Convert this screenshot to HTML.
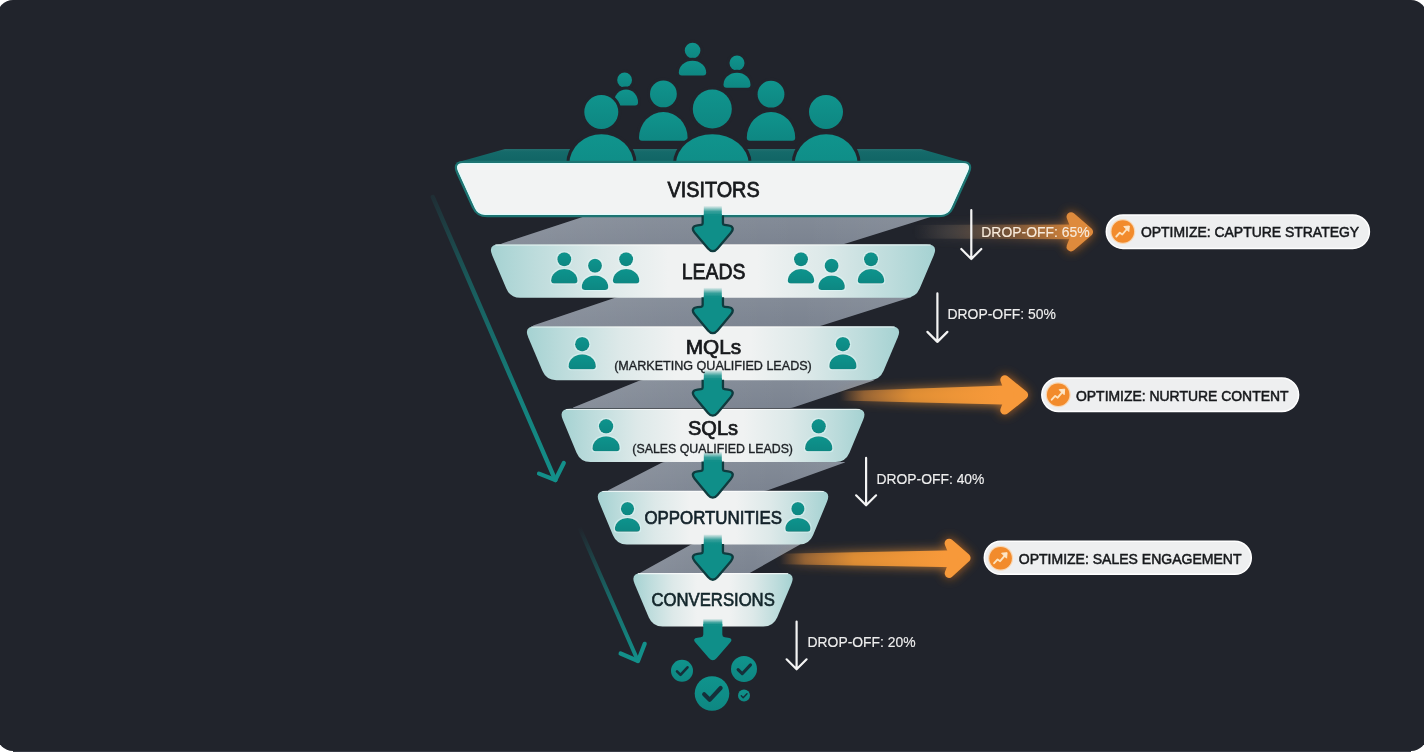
<!DOCTYPE html>
<html><head><meta charset="utf-8"><style>html,body{margin:0;padding:0;background:#ffffff;width:1424px;height:752px;overflow:hidden}svg{display:block;will-change:transform}</style></head>
<body><svg width="1424" height="752" viewBox="0 0 1424 752">
<defs>
<linearGradient id="tealg" x1="0" y1="0" x2="0" y2="1"><stop offset="0" stop-color="#10948d"/><stop offset="1" stop-color="#0e8782"/></linearGradient>
<linearGradient id="stageg" x1="0" y1="0" x2="1" y2="0">
 <stop offset="0" stop-color="#a5d2d2"/><stop offset="0.1" stop-color="#bddcdc"/><stop offset="0.25" stop-color="#dde9e9"/><stop offset="0.4" stop-color="#f0f2f2"/>
 <stop offset="0.6" stop-color="#f0f2f2"/><stop offset="0.75" stop-color="#dde9e9"/><stop offset="0.9" stop-color="#bddcdc"/><stop offset="1" stop-color="#a5d2d2"/></linearGradient>
<linearGradient id="grayg" x1="0" y1="0" x2="0" y2="1"><stop offset="0" stop-color="#838b97"/><stop offset="1" stop-color="#7b8390"/></linearGradient>
<linearGradient id="grayglint" x1="0" y1="0" x2="1" y2="0"><stop offset="0" stop-color="#ffffff" stop-opacity="0.10"/><stop offset="0.35" stop-color="#ffffff" stop-opacity="0.04"/><stop offset="0.7" stop-color="#ffffff" stop-opacity="0"/><stop offset="1" stop-color="#ffffff" stop-opacity="0.05"/></linearGradient>
<linearGradient id="topsurf" x1="0" y1="0" x2="0" y2="1"><stop offset="0" stop-color="#236f6f"/><stop offset="0.2" stop-color="#156a6a"/><stop offset="1" stop-color="#106464"/></linearGradient>
<linearGradient id="shaftfade" x1="0" y1="0" x2="0" y2="1"><stop offset="0" stop-color="#13908a" stop-opacity="0.05"/><stop offset="0.55" stop-color="#13908a" stop-opacity="0.85"/><stop offset="1" stop-color="#13908a" stop-opacity="1"/></linearGradient>
<linearGradient id="diagfade" gradientUnits="userSpaceOnUse" x1="432" y1="197" x2="556" y2="480"><stop offset="0" stop-color="#13908a" stop-opacity="0.1"/><stop offset="0.3" stop-color="#13908a" stop-opacity="0.5"/><stop offset="0.7" stop-color="#13908a" stop-opacity="0.85"/><stop offset="1" stop-color="#13908a" stop-opacity="1"/></linearGradient>
<linearGradient id="diagfade2" gradientUnits="userSpaceOnUse" x1="579" y1="527" x2="638" y2="661"><stop offset="0" stop-color="#13908a" stop-opacity="0"/><stop offset="0.5" stop-color="#13908a" stop-opacity="0.6"/><stop offset="1" stop-color="#13908a" stop-opacity="1"/></linearGradient>
<filter id="oglow" x="-30%" y="-100%" width="160%" height="300%"><feGaussianBlur in="SourceGraphic" stdDeviation="5.5"/></filter>
<filter id="glow" x="-30%" y="-100%" width="160%" height="300%"><feGaussianBlur in="SourceGraphic" stdDeviation="4" result="b"/><feMerge><feMergeNode in="b"/><feMergeNode in="SourceGraphic"/></feMerge></filter>
<filter id="iconglow" x="-50%" y="-50%" width="200%" height="200%"><feMorphology in="SourceAlpha" operator="dilate" radius="1" result="d"/><feFlood flood-color="#e0ffff" flood-opacity="0.45"/><feComposite in2="d" operator="in" result="h"/><feGaussianBlur in="h" stdDeviation="0.6" result="hb"/><feMerge><feMergeNode in="hb"/><feMergeNode in="SourceGraphic"/></feMerge></filter>
</defs>
<rect x="0" y="0" width="1424" height="752" fill="#ffffff"/>
<rect x="-3" y="0" width="1430" height="751" rx="16" ry="16" fill="#21242c"/>
<rect x="13" y="751" width="1398" height="1" fill="#393c47"/>
<g fill="none" stroke-linecap="round" stroke-linejoin="round">
<path d="M432.8,197 L555.3,480" stroke="url(#diagfade)" stroke-width="4.4"/>
<path d="M539,473.6 L555.3,480 L563.8,463" stroke="#13908a" stroke-width="4.2"/>
<path d="M579.2,527 L638,661" stroke="url(#diagfade2)" stroke-width="4"/>
<path d="M620.6,653.5 L638,661 L644.7,643.8" stroke="#13908a" stroke-width="4.2"/>
</g>
<path d="M584.10,216.62 Q586.00,216.00 588.00,216.00 L932.00,216.00 Q934.00,216.00 932.09,216.59 L845.91,243.41 Q844.00,244.00 842.00,244.00 L502.00,244.00 Q500.00,244.00 501.90,243.38 Z" fill="url(#grayg)"/>
<path d="M584.10,216.62 Q586.00,216.00 588.00,216.00 L932.00,216.00 Q934.00,216.00 932.09,216.59 L845.91,243.41 Q844.00,244.00 842.00,244.00 L502.00,244.00 Q500.00,244.00 501.90,243.38 Z" fill="url(#grayglint)"/>
<path d="M615.11,297.65 Q617.00,297.00 619.00,297.00 L910.00,297.00 Q912.00,297.00 910.09,297.60 L821.91,325.40 Q820.00,326.00 818.00,326.00 L534.00,326.00 Q532.00,326.00 533.89,325.35 Z" fill="url(#grayg)"/>
<path d="M615.11,297.65 Q617.00,297.00 619.00,297.00 L910.00,297.00 Q912.00,297.00 910.09,297.60 L821.91,325.40 Q820.00,326.00 818.00,326.00 L534.00,326.00 Q532.00,326.00 533.89,325.35 Z" fill="url(#grayglint)"/>
<path d="M639.15,380.75 Q641.00,380.00 643.00,380.00 L873.00,380.00 Q875.00,380.00 873.10,380.64 L793.90,407.36 Q792.00,408.00 790.00,408.00 L574.00,408.00 Q572.00,408.00 573.85,407.25 Z" fill="url(#grayg)"/>
<path d="M639.15,380.75 Q641.00,380.00 643.00,380.00 L873.00,380.00 Q875.00,380.00 873.10,380.64 L793.90,407.36 Q792.00,408.00 790.00,408.00 L574.00,408.00 Q572.00,408.00 573.85,407.25 Z" fill="url(#grayglint)"/>
<path d="M661.22,462.92 Q663.00,462.00 665.00,462.00 L844.00,462.00 Q846.00,462.00 844.12,462.68 L767.88,490.32 Q766.00,491.00 764.00,491.00 L609.00,491.00 Q607.00,491.00 608.78,490.08 Z" fill="url(#grayg)"/>
<path d="M661.22,462.92 Q663.00,462.00 665.00,462.00 L844.00,462.00 Q846.00,462.00 844.12,462.68 L767.88,490.32 Q766.00,491.00 764.00,491.00 L609.00,491.00 Q607.00,491.00 608.78,490.08 Z" fill="url(#grayglint)"/>
<path d="M690.25,544.97 Q692.00,544.00 694.00,544.00 L799.00,544.00 Q801.00,544.00 799.26,544.99 L749.74,573.01 Q748.00,574.00 746.00,574.00 L640.00,574.00 Q638.00,574.00 639.75,573.03 Z" fill="url(#grayg)"/>
<path d="M690.25,544.97 Q692.00,544.00 694.00,544.00 L799.00,544.00 Q801.00,544.00 799.26,544.99 L749.74,573.01 Q748.00,574.00 746.00,574.00 L640.00,574.00 Q638.00,574.00 639.75,573.03 Z" fill="url(#grayglint)"/>
<path d="M505,149 L921,149 L970,163 L455,163 Z" fill="url(#topsurf)"/>
<circle cx="624.60" cy="80.00" r="7.40" fill="url(#tealg)" stroke="#21242c" stroke-width="6" paint-order="stroke"/><path d="M614.00,102.40 A12.00,12.80 0 0 1 638.00,102.40 Q638.00,105.40 635.00,105.40 L617.00,105.40 Q614.00,105.40 614.00,102.40 Z" fill="url(#tealg)" stroke="#21242c" stroke-width="6" paint-order="stroke"/><circle cx="692.60" cy="50.50" r="7.80" fill="url(#tealg)" stroke="#21242c" stroke-width="6" paint-order="stroke"/><path d="M678.80,72.60 A13.70,11.90 0 0 1 706.20,72.60 Q706.20,75.60 703.20,75.60 L681.80,75.60 Q678.80,75.60 678.80,72.60 Z" fill="url(#tealg)" stroke="#21242c" stroke-width="6" paint-order="stroke"/><circle cx="737.00" cy="63.00" r="7.50" fill="url(#tealg)" stroke="#21242c" stroke-width="6" paint-order="stroke"/><path d="M723.50,84.70 A13.50,11.90 0 0 1 750.50,84.70 Q750.50,87.70 747.50,87.70 L726.50,87.70 Q723.50,87.70 723.50,84.70 Z" fill="url(#tealg)" stroke="#21242c" stroke-width="6" paint-order="stroke"/><circle cx="663.40" cy="93.90" r="13.40" fill="url(#tealg)" stroke="#21242c" stroke-width="6" paint-order="stroke"/><path d="M639.00,137.80 A24.30,25.80 0 0 1 687.60,137.80 Q687.60,140.80 684.60,140.80 L642.00,140.80 Q639.00,140.80 639.00,137.80 Z" fill="url(#tealg)" stroke="#21242c" stroke-width="6" paint-order="stroke"/><circle cx="771.00" cy="94.20" r="13.40" fill="url(#tealg)" stroke="#21242c" stroke-width="6" paint-order="stroke"/><path d="M746.80,137.80 A24.20,25.80 0 0 1 795.20,137.80 Q795.20,140.80 792.20,140.80 L749.80,140.80 Q746.80,140.80 746.80,137.80 Z" fill="url(#tealg)" stroke="#21242c" stroke-width="6" paint-order="stroke"/>
<clipPath id="abovebar"><rect x="0" y="0" width="1424" height="162.5"/></clipPath>
<g clip-path="url(#abovebar)">
<circle cx="601.3" cy="112" r="17" fill="url(#tealg)" stroke="#21242c" stroke-width="6" paint-order="stroke"/>
<ellipse cx="601.45" cy="164" rx="32.150000000000034" ry="29.69999999999999" fill="url(#tealg)" stroke="#21242c" stroke-width="6" paint-order="stroke"/>
<circle cx="712.3" cy="109" r="19.5" fill="url(#tealg)" stroke="#21242c" stroke-width="6" paint-order="stroke"/>
<ellipse cx="712.35" cy="164" rx="36.35000000000002" ry="29.69999999999999" fill="url(#tealg)" stroke="#21242c" stroke-width="6" paint-order="stroke"/>
<circle cx="826" cy="112" r="17" fill="url(#tealg)" stroke="#21242c" stroke-width="6" paint-order="stroke"/>
<ellipse cx="826.1500000000001" cy="164" rx="31.44999999999999" ry="29.69999999999999" fill="url(#tealg)" stroke="#21242c" stroke-width="6" paint-order="stroke"/>
</g>
<path d="M457.57,172.92 Q452.60,162.00 464.60,162.00 L961.40,162.00 Q973.40,162.00 968.43,172.92 L952.95,206.90 Q948.80,216.00 938.80,216.00 L487.20,216.00 Q477.20,216.00 473.05,206.90 Z" fill="#f2f3f3" stroke="#1d7472" stroke-width="2.7"/>
<path d="M458.56,170.98 Q455.24,163.70 463.24,163.70 L962.76,163.70 Q970.76,163.70 967.44,170.98 L950.61,207.93 Q947.71,214.30 940.71,214.30 L485.29,214.30 Q478.29,214.30 475.39,207.93 Z" fill="#f2f3f3" stroke="#e3fbfb" stroke-width="1.3"/>
<path d="M492.19,255.35 Q487.50,244.30 499.50,244.30 L926.50,244.30 Q938.50,244.30 933.81,255.35 L919.71,288.59 Q915.80,297.80 905.80,297.80 L520.20,297.80 Q510.20,297.80 506.29,288.59 Z" fill="url(#stageg)"/>
<path d="M495.5,245.0 L930.5,245.0" stroke="#ffffff" stroke-width="1.2" opacity="0.7"/>
<path d="M528.19,337.34 Q523.50,326.30 535.50,326.30 L890.50,326.30 Q902.50,326.30 897.81,337.34 L883.51,371.00 Q879.60,380.20 869.60,380.20 L556.40,380.20 Q546.40,380.20 542.49,371.00 Z" fill="url(#stageg)"/>
<path d="M531.5,327.0 L894.5,327.0" stroke="#ffffff" stroke-width="1.2" opacity="0.7"/>
<path d="M562.83,419.87 Q558.20,408.80 570.20,408.80 L855.80,408.80 Q867.80,408.80 863.17,419.87 L849.46,452.67 Q845.60,461.90 835.60,461.90 L590.40,461.90 Q580.40,461.90 576.54,452.67 Z" fill="url(#stageg)"/>
<path d="M566.2,409.5 L859.8,409.5" stroke="#ffffff" stroke-width="1.2" opacity="0.7"/>
<path d="M599.03,501.87 Q594.40,490.80 606.40,490.80 L819.60,490.80 Q831.60,490.80 826.97,501.87 L813.06,535.17 Q809.20,544.40 799.20,544.40 L626.80,544.40 Q616.80,544.40 612.94,535.17 Z" fill="url(#stageg)"/>
<path d="M602.4,491.5 L823.6,491.5" stroke="#ffffff" stroke-width="1.2" opacity="0.7"/>
<path d="M634.66,583.96 Q630.00,572.90 642.00,572.90 L784.00,572.90 Q796.00,572.90 791.34,583.96 L777.29,617.29 Q773.40,626.50 763.40,626.50 L662.60,626.50 Q652.60,626.50 648.71,617.29 Z" fill="url(#stageg)"/>
<path d="M638.0,573.6 L788.0,573.6" stroke="#ffffff" stroke-width="1.2" opacity="0.7"/>
<clipPath id="ac0"><rect x="0" y="215.5" width="1424" height="200"/></clipPath><path d="M703.80,214.00 Q703.80,214.00 703.80,214.00 L721.80,214.00 Q721.80,214.00 721.80,214.00 L721.80,223.30 Q721.80,225.80 724.28,226.11 L727.90,226.55 Q734.00,227.30 730.03,231.99 L716.68,247.72 Q712.80,252.30 708.92,247.72 L695.57,231.99 Q691.60,227.30 697.70,226.55 L701.32,226.11 Q703.80,225.80 703.80,223.30 Z" fill="#0f3b3e" stroke="#0f3b3e" stroke-width="4.6" stroke-linejoin="round" clip-path="url(#ac0)"/><path d="M703.80,214.00 Q703.80,214.00 703.80,214.00 L721.80,214.00 Q721.80,214.00 721.80,214.00 L721.80,223.30 Q721.80,225.80 724.28,226.11 L727.90,226.55 Q734.00,227.30 730.03,231.99 L716.68,247.72 Q712.80,252.30 708.92,247.72 L695.57,231.99 Q691.60,227.30 697.70,226.55 L701.32,226.11 Q703.80,225.80 703.80,223.30 Z" fill="#0f8f89"/><rect x="703.8" y="206" width="18.0" height="10" fill="url(#shaftfade)"/>
<clipPath id="ac1"><rect x="0" y="297.3" width="1424" height="200"/></clipPath><path d="M703.80,295.80 Q703.80,295.80 703.80,295.80 L721.80,295.80 Q721.80,295.80 721.80,295.80 L721.80,305.10 Q721.80,307.60 724.28,307.91 L727.90,308.35 Q734.00,309.10 730.04,313.80 L716.66,329.71 Q712.80,334.30 708.94,329.71 L695.56,313.80 Q691.60,309.10 697.70,308.35 L701.32,307.91 Q703.80,307.60 703.80,305.10 Z" fill="#0f3b3e" stroke="#0f3b3e" stroke-width="4.6" stroke-linejoin="round" clip-path="url(#ac1)"/><path d="M703.80,295.80 Q703.80,295.80 703.80,295.80 L721.80,295.80 Q721.80,295.80 721.80,295.80 L721.80,305.10 Q721.80,307.60 724.28,307.91 L727.90,308.35 Q734.00,309.10 730.04,313.80 L716.66,329.71 Q712.80,334.30 708.94,329.71 L695.56,313.80 Q691.60,309.10 697.70,308.35 L701.32,307.91 Q703.80,307.60 703.80,305.10 Z" fill="#0f8f89"/><rect x="703.8" y="287.8" width="18.0" height="10.0" fill="url(#shaftfade)"/>
<clipPath id="ac2"><rect x="0" y="379.7" width="1424" height="200"/></clipPath><path d="M703.80,378.20 Q703.80,378.20 703.80,378.20 L721.80,378.20 Q721.80,378.20 721.80,378.20 L721.80,387.50 Q721.80,390.00 724.28,390.31 L727.90,390.75 Q734.00,391.50 730.05,396.21 L716.65,412.20 Q712.80,416.80 708.95,412.20 L695.55,396.21 Q691.60,391.50 697.70,390.75 L701.32,390.31 Q703.80,390.00 703.80,387.50 Z" fill="#0f3b3e" stroke="#0f3b3e" stroke-width="4.6" stroke-linejoin="round" clip-path="url(#ac2)"/><path d="M703.80,378.20 Q703.80,378.20 703.80,378.20 L721.80,378.20 Q721.80,378.20 721.80,378.20 L721.80,387.50 Q721.80,390.00 724.28,390.31 L727.90,390.75 Q734.00,391.50 730.05,396.21 L716.65,412.20 Q712.80,416.80 708.95,412.20 L695.55,396.21 Q691.60,391.50 697.70,390.75 L701.32,390.31 Q703.80,390.00 703.80,387.50 Z" fill="#0f8f89"/><rect x="703.8" y="370.2" width="18.0" height="10.0" fill="url(#shaftfade)"/>
<clipPath id="ac3"><rect x="0" y="461.4" width="1424" height="200"/></clipPath><path d="M703.80,459.90 Q703.80,459.90 703.80,459.90 L721.80,459.90 Q721.80,459.90 721.80,459.90 L721.80,469.20 Q721.80,471.70 724.28,472.01 L727.90,472.45 Q734.00,473.20 730.08,477.93 L716.63,494.18 Q712.80,498.80 708.97,494.18 L695.52,477.93 Q691.60,473.20 697.70,472.45 L701.32,472.01 Q703.80,471.70 703.80,469.20 Z" fill="#0f3b3e" stroke="#0f3b3e" stroke-width="4.6" stroke-linejoin="round" clip-path="url(#ac3)"/><path d="M703.80,459.90 Q703.80,459.90 703.80,459.90 L721.80,459.90 Q721.80,459.90 721.80,459.90 L721.80,469.20 Q721.80,471.70 724.28,472.01 L727.90,472.45 Q734.00,473.20 730.08,477.93 L716.63,494.18 Q712.80,498.80 708.97,494.18 L695.52,477.93 Q691.60,473.20 697.70,472.45 L701.32,472.01 Q703.80,471.70 703.80,469.20 Z" fill="#0f8f89"/><rect x="703.8" y="451.9" width="18.0" height="10.0" fill="url(#shaftfade)"/>
<clipPath id="ac4"><rect x="0" y="543.9" width="1424" height="200"/></clipPath><path d="M703.80,542.40 Q703.80,542.40 703.80,542.40 L721.80,542.40 Q721.80,542.40 721.80,542.40 L721.80,551.70 Q721.80,554.20 724.28,554.51 L727.90,554.95 Q734.00,555.70 730.04,560.40 L716.66,576.31 Q712.80,580.90 708.94,576.31 L695.56,560.40 Q691.60,555.70 697.70,554.95 L701.32,554.51 Q703.80,554.20 703.80,551.70 Z" fill="#0f3b3e" stroke="#0f3b3e" stroke-width="4.6" stroke-linejoin="round" clip-path="url(#ac4)"/><path d="M703.80,542.40 Q703.80,542.40 703.80,542.40 L721.80,542.40 Q721.80,542.40 721.80,542.40 L721.80,551.70 Q721.80,554.20 724.28,554.51 L727.90,554.95 Q734.00,555.70 730.04,560.40 L716.66,576.31 Q712.80,580.90 708.94,576.31 L695.56,560.40 Q691.60,555.70 697.70,554.95 L701.32,554.51 Q703.80,554.20 703.80,551.70 Z" fill="#0f8f89"/><rect x="703.8" y="534.4" width="18.0" height="10.0" fill="url(#shaftfade)"/>
<path d="M703.30,624.00 Q703.30,624.00 703.30,624.00 L722.30,624.00 Q722.30,624.00 722.30,624.00 L722.30,634.50 Q722.30,637.00 724.78,637.32 L728.05,637.75 Q733.80,638.50 729.98,642.86 L716.75,657.98 Q712.80,662.50 708.85,657.98 L695.62,642.86 Q691.80,638.50 697.55,637.75 L700.82,637.32 Q703.30,637.00 703.30,634.50 Z" fill="#0f8f89"/><rect x="703.3" y="619" width="19.0" height="7" fill="url(#shaftfade)"/>
<circle cx="682" cy="670.8" r="11" fill="url(#tealg)"/><path d="M677.00,671.30 L680.50,674.80 L687.50,667.30" fill="none" stroke="#15303a" stroke-width="2.60" stroke-linecap="round" stroke-linejoin="round"/>
<circle cx="744" cy="669" r="13" fill="url(#tealg)"/><path d="M738.09,669.59 L742.23,673.73 L750.50,664.86" fill="none" stroke="#15303a" stroke-width="3.07" stroke-linecap="round" stroke-linejoin="round"/>
<circle cx="712" cy="693.5" r="17.3" fill="url(#tealg)"/><path d="M704.14,694.29 L709.64,699.79 L720.65,688.00" fill="none" stroke="#15303a" stroke-width="4.09" stroke-linecap="round" stroke-linejoin="round"/>
<circle cx="744" cy="695.6" r="6" fill="url(#tealg)"/><path d="M741.27,695.87 L743.18,697.78 L747.00,693.69" fill="none" stroke="#15303a" stroke-width="1.42" stroke-linecap="round" stroke-linejoin="round"/>
<circle cx="564.30" cy="259.30" r="7.00" fill="url(#tealg)" style="filter:url(#iconglow)"/><path d="M551.05,280.60 A13.25,11.60 0 0 1 577.55,280.60 Q577.55,283.60 574.55,283.60 L554.05,283.60 Q551.05,283.60 551.05,280.60 Z" fill="url(#tealg)" style="filter:url(#iconglow)"/>
<circle cx="595.00" cy="265.70" r="7.00" fill="url(#tealg)" style="filter:url(#iconglow)"/><path d="M581.75,287.00 A13.25,11.60 0 0 1 608.25,287.00 Q608.25,290.00 605.25,290.00 L584.75,290.00 Q581.75,290.00 581.75,287.00 Z" fill="url(#tealg)" style="filter:url(#iconglow)"/>
<circle cx="626.10" cy="259.30" r="7.00" fill="url(#tealg)" style="filter:url(#iconglow)"/><path d="M612.85,280.60 A13.25,11.60 0 0 1 639.35,280.60 Q639.35,283.60 636.35,283.60 L615.85,283.60 Q612.85,283.60 612.85,280.60 Z" fill="url(#tealg)" style="filter:url(#iconglow)"/>
<circle cx="801.00" cy="259.30" r="7.00" fill="url(#tealg)" style="filter:url(#iconglow)"/><path d="M787.75,280.60 A13.25,11.60 0 0 1 814.25,280.60 Q814.25,283.60 811.25,283.60 L790.75,283.60 Q787.75,283.60 787.75,280.60 Z" fill="url(#tealg)" style="filter:url(#iconglow)"/>
<circle cx="831.60" cy="265.70" r="7.00" fill="url(#tealg)" style="filter:url(#iconglow)"/><path d="M818.35,287.00 A13.25,11.60 0 0 1 844.85,287.00 Q844.85,290.00 841.85,290.00 L821.35,290.00 Q818.35,290.00 818.35,287.00 Z" fill="url(#tealg)" style="filter:url(#iconglow)"/>
<circle cx="871.00" cy="259.30" r="7.00" fill="url(#tealg)" style="filter:url(#iconglow)"/><path d="M857.75,280.60 A13.25,11.60 0 0 1 884.25,280.60 Q884.25,283.60 881.25,283.60 L860.75,283.60 Q857.75,283.60 857.75,280.60 Z" fill="url(#tealg)" style="filter:url(#iconglow)"/>
<circle cx="582.20" cy="344.20" r="7.21" fill="url(#tealg)" style="filter:url(#iconglow)"/><path d="M568.55,366.23 A13.65,12.04 0 0 1 595.85,366.23 Q595.85,369.23 592.85,369.23 L571.55,369.23 Q568.55,369.23 568.55,366.23 Z" fill="url(#tealg)" style="filter:url(#iconglow)"/>
<circle cx="842.90" cy="344.20" r="7.21" fill="url(#tealg)" style="filter:url(#iconglow)"/><path d="M829.25,366.23 A13.65,12.04 0 0 1 856.55,366.23 Q856.55,369.23 853.55,369.23 L832.25,369.23 Q829.25,369.23 829.25,366.23 Z" fill="url(#tealg)" style="filter:url(#iconglow)"/>
<circle cx="606.10" cy="426.30" r="7.21" fill="url(#tealg)" style="filter:url(#iconglow)"/><path d="M592.45,448.33 A13.65,12.04 0 0 1 619.75,448.33 Q619.75,451.33 616.75,451.33 L595.45,451.33 Q592.45,451.33 592.45,448.33 Z" fill="url(#tealg)" style="filter:url(#iconglow)"/>
<circle cx="818.70" cy="426.30" r="7.21" fill="url(#tealg)" style="filter:url(#iconglow)"/><path d="M805.05,448.33 A13.65,12.04 0 0 1 832.35,448.33 Q832.35,451.33 829.35,451.33 L808.05,451.33 Q805.05,451.33 805.05,448.33 Z" fill="url(#tealg)" style="filter:url(#iconglow)"/>
<circle cx="627.50" cy="508.70" r="6.65" fill="url(#tealg)" style="filter:url(#iconglow)"/><path d="M614.91,528.78 A12.59,10.87 0 0 1 640.09,528.78 Q640.09,531.78 637.09,531.78 L617.91,531.78 Q614.91,531.78 614.91,528.78 Z" fill="url(#tealg)" style="filter:url(#iconglow)"/>
<circle cx="797.90" cy="508.70" r="6.65" fill="url(#tealg)" style="filter:url(#iconglow)"/><path d="M785.31,528.78 A12.59,10.87 0 0 1 810.49,528.78 Q810.49,531.78 807.49,531.78 L788.31,531.78 Q785.31,531.78 785.31,528.78 Z" fill="url(#tealg)" style="filter:url(#iconglow)"/>
<text x="667.4" y="196.5" font-family="'Liberation Sans', sans-serif" font-size="21.5" font-weight="normal" fill="#17191c" stroke="#17191c" stroke-width="0.77" textLength="92.3" lengthAdjust="spacingAndGlyphs" >VISITORS</text>
<text x="681.7" y="278.7" font-family="'Liberation Sans', sans-serif" font-size="21.5" font-weight="normal" fill="#17191c" stroke="#17191c" stroke-width="0.77" textLength="63.8" lengthAdjust="spacingAndGlyphs" >LEADS</text>
<text x="685.7" y="354" font-family="'Liberation Sans', sans-serif" font-size="20.5" font-weight="normal" fill="#17191c" stroke="#17191c" stroke-width="0.74" textLength="55.5" lengthAdjust="spacingAndGlyphs" >MQLs</text>
<text x="614.2" y="369.9" font-family="'Liberation Sans', sans-serif" font-size="12.6" font-weight="normal" fill="#1d2125" stroke="#1d2125" stroke-width="0.35" textLength="197.6" lengthAdjust="spacingAndGlyphs" >(MARKETING QUALIFIED LEADS)</text>
<text x="688" y="435" font-family="'Liberation Sans', sans-serif" font-size="20" font-weight="normal" fill="#17191c" stroke="#17191c" stroke-width="0.72" textLength="50.1" lengthAdjust="spacingAndGlyphs" >SQLs</text>
<text x="632.3" y="452.7" font-family="'Liberation Sans', sans-serif" font-size="12.6" font-weight="normal" fill="#1d2125" stroke="#1d2125" stroke-width="0.35" textLength="160.7" lengthAdjust="spacingAndGlyphs" >(SALES QUALIFIED LEADS)</text>
<text x="644.4" y="523.8" font-family="'Liberation Sans', sans-serif" font-size="18.9" font-weight="normal" fill="#13222a" stroke="#13222a" stroke-width="0.68" textLength="137.5" lengthAdjust="spacingAndGlyphs" >OPPORTUNITIES</text>
<text x="651.5" y="605.7" font-family="'Liberation Sans', sans-serif" font-size="17.9" font-weight="normal" fill="#13262b" stroke="#13262b" stroke-width="0.64" textLength="123.3" lengthAdjust="spacingAndGlyphs" >CONVERSIONS</text>
<defs>
</defs>
<linearGradient id="og1" gradientUnits="userSpaceOnUse" x1="915" y1="0" x2="1066.5" y2="0"><stop offset="0" stop-color="#8a7a6a" stop-opacity="0.0"/><stop offset="0.2" stop-color="#8a7a6a" stop-opacity="0.18"/><stop offset="0.6" stop-color="#a87040" stop-opacity="0.45"/><stop offset="1" stop-color="#d8863a" stop-opacity="0.85"/></linearGradient><g opacity="1.0"><g filter="url(#oglow)" opacity="0.8"><path d="M915,225 L1078.5,224.4 L1078.5,239.2 L915,238.5 Z" fill="url(#og1)"/><path d="M1071.0,216.7 L1088.6,231.8 L1071.0,246.9 L1075.0,236.8 L1075.0,226.8 Z" fill="#d9761f" stroke="#d9761f" stroke-width="9.0" stroke-linejoin="round"/></g><path d="M915,225 L1078.5,224.4 L1078.5,239.2 L915,238.5 Z" fill="url(#og1)"/><path d="M1071.0,216.7 L1088.6,231.8 L1071.0,246.9 L1075.0,236.8 L1075.0,226.8 Z" fill="#de8a3c" stroke="#de8a3c" stroke-width="9.0" stroke-linejoin="round"/></g>
<linearGradient id="og2" gradientUnits="userSpaceOnUse" x1="840" y1="0" x2="1000.3" y2="0"><stop offset="0" stop-color="#e08a35" stop-opacity="0"/><stop offset="0.15" stop-color="#e8903a" stop-opacity="0.45"/><stop offset="0.45" stop-color="#f59a35" stop-opacity="0.792"/><stop offset="1" stop-color="#f7993a" stop-opacity="1"/></linearGradient><g opacity="1.0"><g filter="url(#oglow)" opacity="0.8"><path d="M840,391.2 L1012.3,385.3 L1012.3,404.7 L840,400.5 Z" fill="url(#og2)"/><path d="M1004.8,379.8 L1023.6,395 L1004.8,410.1 L1008.8,400 L1008.8,390 Z" fill="#d9761f" stroke="#d9761f" stroke-width="9.0" stroke-linejoin="round"/></g><path d="M840,391.2 L1012.3,385.3 L1012.3,404.7 L840,400.5 Z" fill="url(#og2)"/><path d="M1004.8,379.8 L1023.6,395 L1004.8,410.1 L1008.8,400 L1008.8,390 Z" fill="#f7993a" stroke="#f7993a" stroke-width="9.0" stroke-linejoin="round"/></g>
<linearGradient id="og3" gradientUnits="userSpaceOnUse" x1="780" y1="0" x2="944.6" y2="0"><stop offset="0" stop-color="#e08a35" stop-opacity="0"/><stop offset="0.15" stop-color="#e8903a" stop-opacity="0.45"/><stop offset="0.45" stop-color="#f59a35" stop-opacity="0.792"/><stop offset="1" stop-color="#f7993a" stop-opacity="1"/></linearGradient><g opacity="1.0"><g filter="url(#oglow)" opacity="0.8"><path d="M780,553.7 L956.6,550.3 L956.6,567.2 L780,564.2 Z" fill="url(#og3)"/><path d="M949.1,543.2 L966.1,558 L949.1,573.5 L953.1,563 L953.1,553 Z" fill="#d9761f" stroke="#d9761f" stroke-width="9.0" stroke-linejoin="round"/></g><path d="M780,553.7 L956.6,550.3 L956.6,567.2 L780,564.2 Z" fill="url(#og3)"/><path d="M949.1,543.2 L966.1,558 L949.1,573.5 L953.1,563 L953.1,553 Z" fill="#f7993a" stroke="#f7993a" stroke-width="9.0" stroke-linejoin="round"/></g>
<path d="M971.3,210.2 L971.3,259 M961.3,249 L971.3,259 L981.3,249" fill="none" stroke="#f4f4f4" stroke-width="2.2" stroke-linecap="round" stroke-linejoin="round"/>
<path d="M937.4,293.4 L937.4,341.9 M927.4,331.9 L937.4,341.9 L947.4,331.9" fill="none" stroke="#f4f4f4" stroke-width="2.2" stroke-linecap="round" stroke-linejoin="round"/>
<path d="M866.1,457.9 L866.1,505.3 M856.1,495.3 L866.1,505.3 L876.1,495.3" fill="none" stroke="#f4f4f4" stroke-width="2.2" stroke-linecap="round" stroke-linejoin="round"/>
<path d="M796.6,621.5 L796.6,669.3 M786.6,659.3 L796.6,669.3 L806.6,659.3" fill="none" stroke="#f4f4f4" stroke-width="2.2" stroke-linecap="round" stroke-linejoin="round"/>
<text x="981.3" y="236.9" font-family="'Liberation Sans', sans-serif" font-size="14.3" font-weight="normal" fill="#f7eadb" stroke="#f7eadb" stroke-width="0.15" textLength="108.3" lengthAdjust="spacingAndGlyphs" >DROP-OFF: 65%</text>
<text x="947.5" y="319.2" font-family="'Liberation Sans', sans-serif" font-size="14.3" font-weight="normal" fill="#eeeeee" stroke="#eeeeee" stroke-width="0.15" textLength="108.3" lengthAdjust="spacingAndGlyphs" >DROP-OFF: 50%</text>
<text x="876.5" y="483.5" font-family="'Liberation Sans', sans-serif" font-size="14.3" font-weight="normal" fill="#eeeeee" stroke="#eeeeee" stroke-width="0.15" textLength="107.9" lengthAdjust="spacingAndGlyphs" >DROP-OFF: 40%</text>
<text x="807.5" y="646.6" font-family="'Liberation Sans', sans-serif" font-size="14.3" font-weight="normal" fill="#eeeeee" stroke="#eeeeee" stroke-width="0.15" textLength="108.1" lengthAdjust="spacingAndGlyphs" >DROP-OFF: 20%</text>
<rect x="1106.3" y="215" width="263.10000000000014" height="33.400000000000006" rx="16.700000000000003" fill="#eeeff0" stroke="#ffffff" stroke-width="1.5"/><circle cx="1122.8" cy="231.5" r="12.5" fill="#f8d7b4"/><circle cx="1122.8" cy="231.5" r="11.3" fill="#f28b2c"/><path d="M1116.3,236.5 L1119.8,232.7 L1122.3,234.5 L1127.8,228.0" fill="none" stroke="#fde2bd" stroke-width="1.9" stroke-linecap="round" stroke-linejoin="round"/><path d="M1123.8,226.5 L1129.3,226.0 L1128.8,231.5 Z" fill="#fde6c8" stroke="#fde6c8" stroke-width="1" stroke-linejoin="round"/><text x="1140.9" y="236.8" font-family="'Liberation Sans', sans-serif" font-size="14.8" font-weight="normal" fill="#17191c" stroke="#17191c" stroke-width="0.53" textLength="218.2" lengthAdjust="spacingAndGlyphs" >OPTIMIZE: CAPTURE STRATEGY</text>
<rect x="1041.8" y="378.1" width="256.79999999999995" height="33.39999999999998" rx="16.69999999999999" fill="#eeeff0" stroke="#ffffff" stroke-width="1.5"/><circle cx="1058.2" cy="394.7" r="12.5" fill="#f8d7b4"/><circle cx="1058.2" cy="394.7" r="11.3" fill="#f28b2c"/><path d="M1051.7,399.7 L1055.2,395.9 L1057.7,397.7 L1063.2,391.2" fill="none" stroke="#fde2bd" stroke-width="1.9" stroke-linecap="round" stroke-linejoin="round"/><path d="M1059.2,389.7 L1064.7,389.2 L1064.2,394.7 Z" fill="#fde6c8" stroke="#fde6c8" stroke-width="1" stroke-linejoin="round"/><text x="1076.0" y="400.5" font-family="'Liberation Sans', sans-serif" font-size="14.8" font-weight="normal" fill="#17191c" stroke="#17191c" stroke-width="0.53" textLength="212.5" lengthAdjust="spacingAndGlyphs" >OPTIMIZE: NURTURE CONTENT</text>
<rect x="984.3" y="541.3" width="267.0" height="33.0" rx="16.5" fill="#eeeff0" stroke="#ffffff" stroke-width="1.5"/><circle cx="1000.6" cy="558.2" r="12.5" fill="#f8d7b4"/><circle cx="1000.6" cy="558.2" r="11.3" fill="#f28b2c"/><path d="M994.1,563.2 L997.6,559.4000000000001 L1000.1,561.2 L1005.6,554.7" fill="none" stroke="#fde2bd" stroke-width="1.9" stroke-linecap="round" stroke-linejoin="round"/><path d="M1001.6,553.2 L1007.1,552.7 L1006.6,558.2 Z" fill="#fde6c8" stroke="#fde6c8" stroke-width="1" stroke-linejoin="round"/><text x="1018.8" y="563.5" font-family="'Liberation Sans', sans-serif" font-size="14.8" font-weight="normal" fill="#17191c" stroke="#17191c" stroke-width="0.53" textLength="222.7" lengthAdjust="spacingAndGlyphs" >OPTIMIZE: SALES ENGAGEMENT</text>
</svg></body></html>
